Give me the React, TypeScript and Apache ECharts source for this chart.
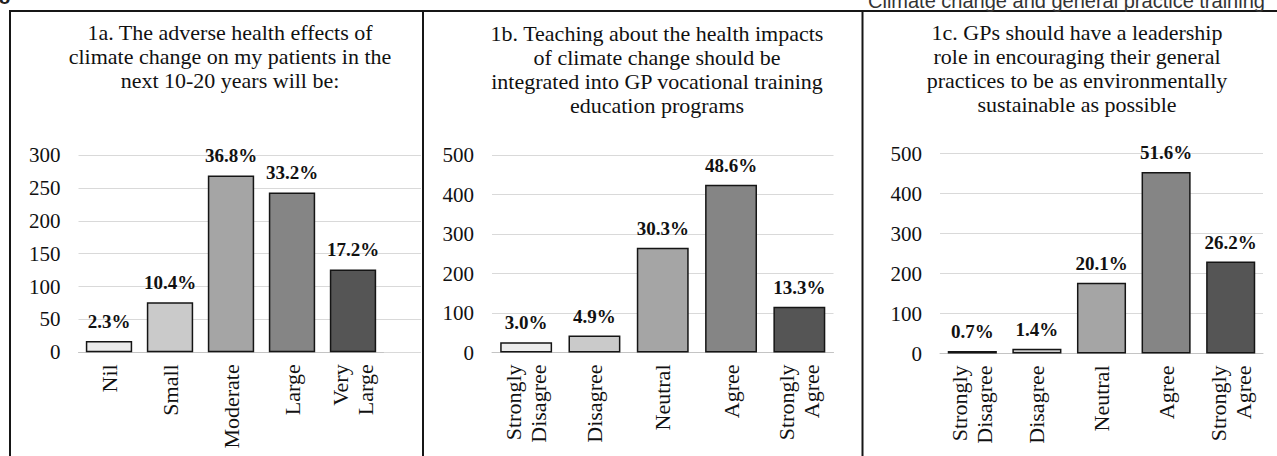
import React, { useEffect, useRef } from "react";
import * as echarts from "echarts";

// ---- data ----
const sizeCategories = ["Nil", "Small", "Moderate", "Large", "Very\nLarge"];
const sizeCounts = [17, 76, 269, 243, 126];
const sizePct = ["2.3%", "10.4%", "36.8%", "33.2%", "17.2%"];

const agreeCategories = ["Strongly\nDisagree", "Disagree", "Neutral", "Agree", "Strongly\nAgree"];
const teachingCounts = [26, 43, 265, 425, 116];
const teachingPct = ["3.0%", "4.9%", "30.3%", "48.6%", "13.3%"];
const leadershipCounts = [6, 12, 177, 454, 230];
const leadershipPct = ["0.7%", "1.4%", "20.1%", "51.6%", "26.2%"];

const titleA = "1a. The adverse health effects of\nclimate change on my patients in the\nnext 10-20 years will be:";
const titleB = "1b. Teaching about the health impacts\nof climate change should be\nintegrated into GP vocational training\neducation programs";
const titleC = "1c. GPs should have a leadership\nrole in encouraging their general\npractices to be as environmentally\nsustainable as possible";
const headerText = "Climate change and general practice training";
const pageNumber = "8";

const shades = ["#ececec", "#cacaca", "#a5a5a5", "#858585", "#555555"];

const SERIF = "'Liberation Serif', 'Times New Roman', serif";
const GRID_COLOR = "#d9d9d9";

function barSeries(counts: number[], labels: string[], xAxisIndex: number, yAxisIndex: number) {
  return {
    type: "bar",
    xAxisIndex,
    yAxisIndex,
    barCategoryGap: "24%",
    data: counts.map((v, i) => ({
      value: v,
      itemStyle: { color: shades[i], borderColor: "#151515", borderWidth: 1.5 },
    })),
    label: {
      show: true,
      position: "top",
      distance: 10,
      formatter: (p: any) => labels[p.dataIndex],
      fontFamily: SERIF,
      fontWeight: "bold",
      fontSize: 19,
      color: "#111",
    },
  };
}

function catAxis(gridIndex: number, data: string[]) {
  return {
    type: "category",
    gridIndex,
    data,
    axisTick: { show: false },
    axisLine: { show: true, lineStyle: { color: "#c4c4c4", width: 1 } },
    axisLabel: {
      rotate: 90,
      interval: 0,
      margin: 12,
      fontFamily: SERIF,
      fontSize: 22,
      lineHeight: 25,
      color: "#111",
    },
  };
}

function valAxis(gridIndex: number, max: number, interval: number, visible: boolean) {
  return {
    type: "value",
    gridIndex,
    min: 0,
    max,
    interval,
    axisLine: { show: false },
    axisTick: { show: false },
    axisLabel: visible
      ? { show: true, margin: 18, fontFamily: SERIF, fontSize: 21, color: "#111" }
      : { show: false },
    splitLine: visible ? { show: true, lineStyle: { color: GRID_COLOR, width: 1 } } : { show: false },
  };
}

function titleText(text: string, x: number, y: number) {
  return {
    type: "text",
    x,
    y,
    style: {
      text,
      fill: "#111",
      font: `22px ${SERIF}`,
      lineHeight: 24,
      textAlign: "center",
      align: "center",
      textVerticalAlign: "top",
      verticalAlign: "top",
    },
  };
}

function vline(x: number) {
  return {
    type: "line",
    shape: { x1: x, y1: 11, x2: x, y2: 460 },
    style: { stroke: "#161616", lineWidth: 2 },
  };
}

export default function App() {
  const ref = useRef<HTMLDivElement>(null);
  useEffect(() => {
    if (!ref.current) return;
    const chart = echarts.init(ref.current, null, { renderer: "svg" });
    chart.setOption({
      animation: false,
      backgroundColor: "#ffffff",
      grid: [
        { left: 78.5, top: 155, width: 305, height: 197.3 },
        { left: 78.5, top: 155, width: 342.5, height: 197.3 },
        { left: 492, top: 155, width: 341.5, height: 197.5 },
        { left: 940, top: 153.5, width: 323, height: 200 },
      ],
      xAxis: [
        catAxis(0, sizeCategories),
        { type: "value", gridIndex: 1, min: 0, max: 1, show: false },
        catAxis(2, agreeCategories),
        catAxis(3, agreeCategories),
      ],
      yAxis: [
        valAxis(0, 300, 50, false),
        valAxis(1, 300, 50, true),
        valAxis(2, 500, 100, true),
        valAxis(3, 500, 100, true),
      ],
      series: [
        barSeries(sizeCounts, sizePct, 0, 0),
        barSeries(teachingCounts, teachingPct, 2, 2),
        barSeries(leadershipCounts, leadershipPct, 3, 3),
      ],
      graphic: [
        {
          type: "line",
          shape: { x1: 9, y1: 11, x2: 1280, y2: 11 },
          style: { stroke: "#161616", lineWidth: 2 },
        },
        vline(10),
        vline(423),
        vline(862.5),
        titleText(titleA, 230, 20),
        titleText(titleB, 657, 21),
        titleText(titleC, 1077, 20),
        {
          type: "text",
          x: 868,
          y: 0.5,
          style: {
            text: headerText,
            fill: "#333",
            font: "20px 'Liberation Sans', Arial, sans-serif",
            textAlign: "left",
            align: "left",
            textVerticalAlign: "middle",
            verticalAlign: "middle",
          },
        },
        {
          type: "text",
          x: -1,
          y: -3,
          style: {
            text: pageNumber,
            fill: "#222",
            font: "bold 20px 'Liberation Sans', Arial, sans-serif",
            textAlign: "left",
            align: "left",
            textVerticalAlign: "middle",
            verticalAlign: "middle",
          },
        },
      ],
    });
    return () => chart.dispose();
  }, []);
  return (
    <div
      ref={ref}
      style={{ position: "absolute", left: 0, top: 0, width: 1277, height: 456, background: "#fff" }}
    />
  );
}
